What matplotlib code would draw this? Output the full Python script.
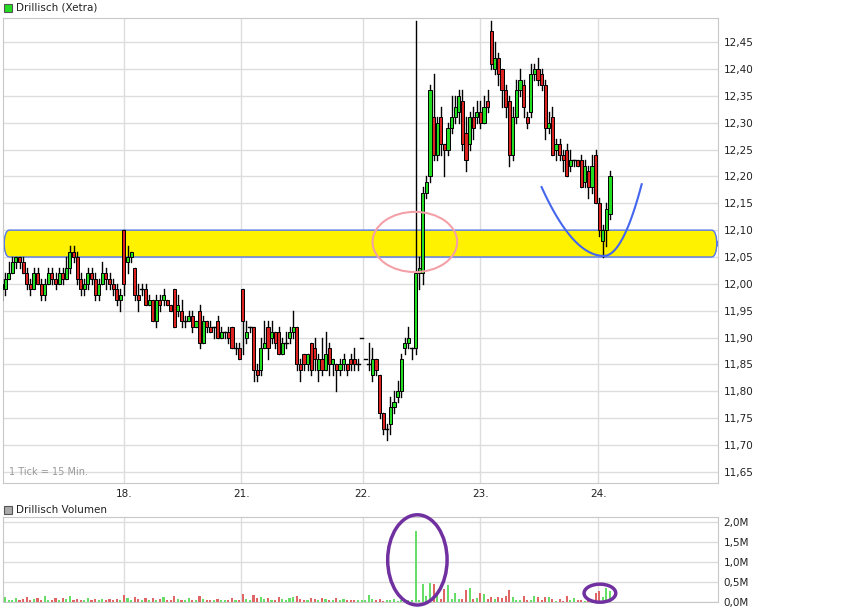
import numpy as np
import matplotlib
matplotlib.use("Agg")
import matplotlib.pyplot as plt
from matplotlib.patches import Ellipse, FancyBboxPatch, Rectangle

opens = [12.00,11.99,12.01,12.02,12.04,12.05,12.04,12.02,12.00,11.99,
         12.02,12.00,11.98,12.00,12.02,12.01,12.00,12.02,12.01,12.03,
         12.06,12.05,12.01,11.99,12.00,12.02,12.01,11.98,12.00,12.02,
         12.01,12.00,11.99,11.97,12.10,12.04,12.05,12.03,11.98,11.99,
         11.99,11.96,11.97,11.93,11.97,11.97,11.97,11.96,11.99,11.95,
         11.95,11.93,11.93,11.94,11.92,11.95,11.89,11.93,11.92,11.92,
         11.93,11.90,11.91,11.91,11.92,11.88,11.88,11.99,11.90,11.92,
         11.92,11.84,11.84,11.88,11.92,11.90,11.91,11.91,11.87,11.89,
         11.90,11.91,11.92,11.85,11.87,11.85,11.89,11.88,11.84,11.86,
         11.84,11.88,11.85,11.85,11.84,11.85,11.85,11.86,11.86,11.85,
         11.90,11.86,11.85,11.83,11.86,11.83,11.76,11.73,11.74,11.77,
         11.79,11.80,11.88,11.89,11.88,11.88,12.02,12.02,12.17,12.20,
         12.31,12.24,12.31,12.26,12.25,12.29,12.31,12.32,12.34,12.28,
         12.26,12.31,12.31,12.32,12.30,12.34,12.47,12.40,12.42,12.40,
         12.36,12.34,12.24,12.31,12.36,12.37,12.31,12.32,12.39,12.40,
         12.39,12.37,12.29,12.31,12.25,12.26,12.24,12.25,12.22,12.23,
         12.23,12.23,12.19,12.21,12.18,12.24,12.15,12.08,12.10,12.13]
closes = [11.99,12.01,12.02,12.04,12.05,12.04,12.02,12.00,11.99,12.02,
          12.00,11.98,12.00,12.02,12.01,12.00,12.02,12.01,12.03,12.06,
          12.05,12.01,11.99,12.00,12.02,12.01,11.98,12.00,12.02,12.01,
          12.00,11.99,11.97,11.98,12.00,12.05,12.06,11.98,11.97,11.99,
          11.96,11.97,11.93,11.97,11.96,11.98,11.96,11.95,11.92,11.96,
          11.93,11.93,11.94,11.92,11.93,11.89,11.93,11.92,11.91,11.92,
          11.90,11.91,11.91,11.90,11.88,11.88,11.86,11.93,11.91,11.92,
          11.84,11.83,11.88,11.89,11.88,11.91,11.89,11.87,11.89,11.89,
          11.91,11.92,11.85,11.84,11.85,11.87,11.84,11.86,11.86,11.84,
          11.87,11.85,11.86,11.84,11.85,11.86,11.84,11.85,11.85,11.85,
          11.90,11.86,11.85,11.86,11.84,11.76,11.73,11.73,11.77,11.78,
          11.80,11.86,11.89,11.90,11.88,12.02,12.03,12.17,12.19,12.36,
          12.24,12.30,12.26,12.25,12.29,12.31,12.33,12.35,12.26,12.23,
          12.31,12.29,12.32,12.30,12.33,12.33,12.41,12.42,12.39,12.36,
          12.33,12.24,12.31,12.36,12.38,12.33,12.30,12.39,12.40,12.38,
          12.37,12.29,12.30,12.24,12.26,12.24,12.23,12.20,12.23,12.23,
          12.22,12.18,12.22,12.18,12.22,12.15,12.10,12.10,12.14,12.20]
highs = [12.01,12.02,12.04,12.05,12.05,12.05,12.05,12.03,12.01,12.03,
         12.03,12.01,12.01,12.03,12.03,12.02,12.03,12.03,12.05,12.07,
         12.07,12.06,12.02,12.01,12.03,12.03,12.02,12.01,12.04,12.03,
         12.02,12.01,12.00,11.99,12.10,12.07,12.06,12.03,12.00,12.00,
         12.00,11.98,11.97,11.98,11.98,11.99,11.97,11.96,11.99,11.98,
         11.97,11.94,11.95,11.95,11.93,11.96,11.94,11.93,11.93,11.92,
         11.94,11.92,11.91,11.92,11.92,11.89,11.89,11.99,11.93,11.92,
         11.92,11.85,11.90,11.93,11.93,11.93,11.91,11.92,11.90,11.91,
         11.92,11.95,11.92,11.86,11.87,11.87,11.89,11.90,11.87,11.90,
         11.91,11.89,11.86,11.85,11.86,11.87,11.85,11.87,11.88,11.86,
         11.90,11.86,11.89,11.88,11.86,11.83,11.76,11.74,11.79,11.80,
         11.82,11.87,11.90,11.92,11.88,12.49,12.05,12.18,12.20,12.37,
         12.39,12.31,12.33,12.26,12.30,12.35,12.35,12.36,12.36,12.31,
         12.32,12.33,12.34,12.34,12.35,12.36,12.49,12.45,12.43,12.40,
         12.37,12.35,12.33,12.38,12.40,12.38,12.32,12.41,12.41,12.42,
         12.40,12.38,12.32,12.33,12.27,12.27,12.25,12.26,12.25,12.23,
         12.23,12.24,12.23,12.22,12.24,12.25,12.16,12.11,12.15,12.21]
lows = [11.97,11.98,12.01,12.02,12.03,12.03,12.02,11.99,11.98,11.99,
        12.00,11.97,11.97,12.00,12.00,11.99,12.00,12.00,12.01,12.02,
        12.04,12.00,11.98,11.98,11.99,12.00,11.97,11.97,12.00,11.99,
        11.99,11.98,11.96,11.95,11.98,12.02,12.04,11.97,11.95,11.98,
        11.96,11.96,11.93,11.92,11.95,11.96,11.96,11.95,11.92,11.94,
        11.92,11.92,11.93,11.91,11.92,11.88,11.89,11.91,11.91,11.90,
        11.90,11.90,11.90,11.89,11.88,11.87,11.86,11.87,11.89,11.91,
        11.82,11.82,11.83,11.88,11.86,11.89,11.88,11.87,11.87,11.88,
        11.89,11.90,11.84,11.82,11.84,11.84,11.83,11.84,11.82,11.83,
        11.84,11.83,11.83,11.80,11.83,11.84,11.83,11.84,11.84,11.84,
        11.90,11.86,11.84,11.82,11.83,11.75,11.72,11.71,11.72,11.76,
        11.78,11.79,11.87,11.88,11.86,11.87,11.99,12.00,12.16,12.19,
        12.23,12.23,12.24,12.20,12.24,12.28,12.30,12.30,12.25,12.21,
        12.25,12.27,12.30,12.29,12.30,12.32,12.40,12.39,12.37,12.33,
        12.31,12.22,12.23,12.30,12.35,12.31,12.29,12.31,12.38,12.37,
        12.36,12.27,12.28,12.24,12.23,12.23,12.21,12.20,12.21,12.22,
        12.22,12.18,12.18,12.16,12.17,12.15,12.09,12.05,12.07,12.12]
volumes = [0.08,0.12,0.05,0.06,0.10,0.04,0.08,0.12,0.05,0.07,
           0.10,0.05,0.14,0.06,0.04,0.09,0.05,0.10,0.07,0.15,
           0.05,0.08,0.04,0.06,0.10,0.05,0.08,0.04,0.07,0.05,
           0.08,0.04,0.07,0.05,0.18,0.09,0.06,0.12,0.08,0.05,
           0.11,0.06,0.09,0.05,0.08,0.12,0.06,0.04,0.14,0.08,
           0.06,0.05,0.09,0.06,0.04,0.16,0.08,0.05,0.06,0.04,
           0.08,0.05,0.06,0.04,0.09,0.05,0.06,0.20,0.08,0.05,
           0.18,0.09,0.12,0.08,0.10,0.06,0.05,0.13,0.08,0.06,
           0.09,0.12,0.14,0.08,0.06,0.05,0.10,0.08,0.06,0.09,
           0.08,0.06,0.05,0.09,0.06,0.08,0.05,0.06,0.04,0.05,
           0.04,0.05,0.17,0.08,0.05,0.07,0.03,0.05,0.04,0.07,
           0.02,0.06,0.03,0.06,0.04,1.78,0.06,0.45,0.15,0.48,
           0.45,0.22,0.07,0.32,0.42,0.07,0.22,0.07,0.07,0.30,
           0.35,0.07,0.09,0.23,0.21,0.08,0.12,0.08,0.13,0.10,
           0.15,0.31,0.13,0.06,0.05,0.15,0.04,0.06,0.14,0.12,
           0.06,0.13,0.13,0.07,0.02,0.08,0.03,0.16,0.05,0.10,
           0.04,0.06,0.03,0.04,0.06,0.22,0.27,0.12,0.34,0.27]

day_labels = ["18.", "21.", "22.", "23.", "24."]
day_pos = [34.0, 66.6, 100.4, 133.0, 165.7]
price_ticks = [11.65, 11.70, 11.75, 11.80, 11.85, 11.90, 11.95, 12.00,
               12.05, 12.10, 12.15, 12.20, 12.25, 12.30, 12.35, 12.40, 12.45]
vol_ticks = [0.0, 0.5, 1.0, 1.5, 2.0]

GREEN = "#22dd22"
RED = "#dd2222"
fig = plt.figure(figsize=(8.55, 6.08), dpi=100)
W, H = 855, 608
def rect(l, t, r, b):
    return [l / W, (H - b) / H, (r - l) / W, (b - t) / H]

xmin, xmax = 0.4, 199.0
ax = fig.add_axes(rect(3, 18, 718, 483))
vax = fig.add_axes(rect(3, 517, 718, 602))
for a in (ax, vax):
    a.set_xlim(xmin, xmax)
    for s in a.spines.values():
        s.set_color("#c8c8c8")
    a.yaxis.tick_right()
    a.tick_params(axis="both", length=0, labelsize=7.5, colors="#222222", pad=4)
    a.set_xticks(day_pos)
    a.grid(True, color="#dddddd", lw=1)
    a.set_axisbelow(True)

ax.set_ylim(11.6295, 12.4947)
ax.set_yticks(price_ticks)
ax.set_yticklabels([f"{v:.2f}".replace(".", ",") for v in price_ticks])
ax.set_xticklabels(day_labels)

band = FancyBboxPatch((xmin + 0.3, 12.05), xmax - xmin - 0.6, 0.05,
                      boxstyle="round,pad=0,rounding_size=1.5", mutation_aspect=0.02,
                      fc="#fff200", ec="#5577ee", lw=1, zorder=1)
ax.add_patch(band)

bw = 0.85
for i, (o, h, l, c) in enumerate(zip(opens, highs, lows, closes)):
    col = GREEN if c >= o else RED
    ax.plot([i, i], [l, h], color="black", lw=1, zorder=3)
    bot, top = min(o, c), max(o, c)
    if top - bot < 0.002:
        ax.plot([i - bw / 2, i + bw / 2], [o, o], color="black", lw=1, zorder=4)
    else:
        ax.add_patch(Rectangle((i - bw / 2, bot), bw, top - bot, fc=col,
                               ec="black", lw=0.7, zorder=4))

ax.add_patch(Ellipse((114.8, 12.078), 23.5, 0.112, fill=False, ec="#f4a0a8", lw=1.5, zorder=5))
xl = np.linspace(150, 167.3, 40)
xr = np.linspace(167.3, 177.8, 30)
ax.plot(xl, 12.052 + 0.000428 * (xl - 167.3) ** 2, color="#4466ee", lw=1.5, zorder=5)
ax.plot(xr, 12.052 + 0.00121 * (xr - 167.3) ** 2, color="#4466ee", lw=1.5, zorder=5)
ax.text(0.008, 0.012, "1 Tick = 15 Min.", transform=ax.transAxes,
        fontsize=7, color="#999999", va="bottom", ha="left")

vax.set_ylim(0, 2.12)
vax.set_yticks(vol_ticks)
vax.set_yticklabels([f"{v:.1f}".replace(".", ",") + "M" for v in vol_ticks])
vax.set_xticklabels([])
vcols = ["#66dd66" if c >= o else "#e06666" for o, c in zip(opens, closes)]
vax.bar(range(len(volumes)), volumes, width=0.6, color=vcols, zorder=3)
vax.add_patch(Ellipse((115.5, 1.05), 16.5, 2.25, fill=False, ec="#7030a0", lw=2.5, zorder=5, clip_on=False))
vax.add_patch(Ellipse((166.2, 0.22), 8.8, 0.45, fill=False, ec="#7030a0", lw=2.5, zorder=5, clip_on=False))

fig.patches.append(Rectangle((4 / W, (H - 12) / H), 8 / W, 8 / H, transform=fig.transFigure,
                             fc="#22dd22", ec="#555555", lw=0.8))
fig.text(16 / W, (H - 8) / H, "Drillisch (Xetra)", fontsize=7.5, va="center", color="#222222")
fig.patches.append(Rectangle((4 / W, (H - 514) / H), 8 / W, 8 / H, transform=fig.transFigure,
                             fc="#aaaaaa", ec="#555555", lw=0.8))
fig.text(16 / W, (H - 510) / H, "Drillisch Volumen", fontsize=7.5, va="center", color="#222222")

fig.savefig("out.png", dpi=100)
